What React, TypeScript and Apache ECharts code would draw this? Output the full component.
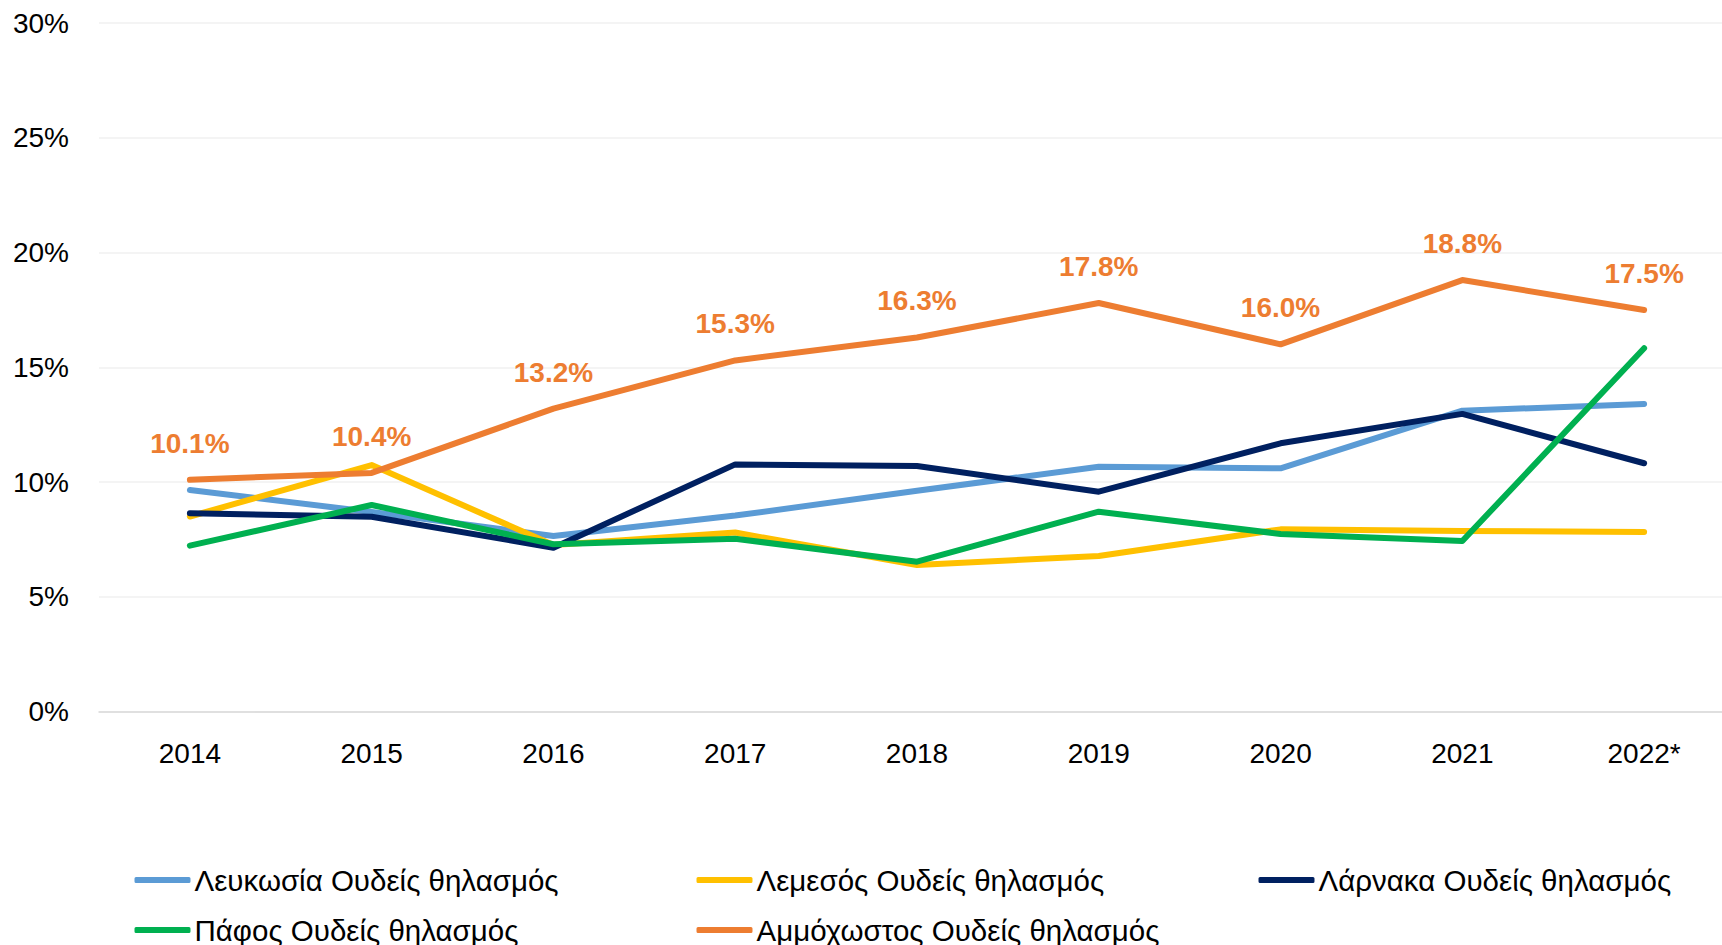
import React, { useEffect, useRef } from "react";
import * as echarts from "echarts";

const years = ["2014", "2015", "2016", "2017", "2018", "2019", "2020", "2021", "2022*"];
const yTicks = [0, 5, 10, 15, 20, 25, 30];

const seriesNames = [
  "Λευκωσία Ουδείς θηλασμός",
  "Λεμεσός Ουδείς θηλασμός",
  "Λάρνακα Ουδείς θηλασμός",
  "Πάφος Ουδείς θηλασμός",
  "Αμμόχωστος Ουδείς θηλασμός",
];
const colors = ["#5B9BD5", "#FFC000", "#002060", "#00B050", "#ED7D31"];

const lefkosia = [9.65, 8.7, 7.65, 8.54, 9.62, 10.67, 10.6, 13.11, 13.4];
const lemesos = [8.5, 10.74, 7.26, 7.8, 6.39, 6.78, 7.94, 7.87, 7.83];
const larnaka = [8.64, 8.49, 7.14, 10.77, 10.7, 9.58, 11.69, 12.97, 10.82];
const pafos = [7.23, 9.0, 7.29, 7.53, 6.53, 8.71, 7.74, 7.43, 15.83];
const ammochostos = [10.1, 10.4, 13.2, 15.3, 16.3, 17.8, 16.0, 18.8, 17.5];

const allData = [lefkosia, lemesos, larnaka, pafos, ammochostos];

const FONT = "Liberation Sans";

export default function App() {
  const ref = useRef<HTMLDivElement>(null);
  useEffect(() => {
    if (!ref.current) return;
    document.documentElement.style.overflow = "hidden";
    document.body.style.overflow = "hidden";
    const chart = echarts.init(ref.current, null, { renderer: "svg" });
    const legendPos = [
      { left: 129.5, top: 860 },
      { left: 691.5, top: 860 },
      { left: 1253.5, top: 860 },
      { left: 129.5, top: 910 },
      { left: 691.5, top: 910 },
    ];
    chart.setOption({
      animation: false,
      backgroundColor: "#FFFFFF",
      grid: { left: 99, top: 23, right: 0, height: 688.6, containLabel: false },
      legend: seriesNames.map((n, i) => ({
        data: [n],
        left: legendPos[i].left,
        top: legendPos[i].top,
        itemWidth: 56,
        itemHeight: 6,
        itemGap: 0,
        icon: "roundRect",
        textStyle: {
          fontFamily: FONT,
          fontSize: 29.5,
          lineHeight: 30,
          color: "#000000",
          padding: [0, 0, 0, -1],
        },
      })),
      xAxis: {
        type: "category",
        data: years,
        boundaryGap: true,
        axisLine: { lineStyle: { color: "#D9D9D9", width: 1.5 } },
        axisTick: { show: false },
        axisLabel: { fontFamily: FONT, fontSize: 28, color: "#000000", margin: 28 },
      },
      yAxis: {
        type: "value",
        min: yTicks[0],
        max: yTicks[yTicks.length - 1],
        interval: 5,
        axisLine: { show: false },
        axisTick: { show: false },
        splitLine: { lineStyle: { color: "#F0F0F0", width: 1.5 } },
        axisLabel: {
          fontFamily: FONT,
          fontSize: 28,
          color: "#000000",
          margin: 30,
          formatter: "{value}%",
        },
      },
      series: allData.map((d, i) => ({
        name: seriesNames[i],
        type: "line",
        data: d,
        symbol: "circle",
        symbolSize: 1,
        showSymbol: true,
        itemStyle: { color: colors[i] },
        lineStyle: { color: colors[i], width: 6, cap: "round", join: "round" },
        label:
          i === 4
            ? {
                show: true,
                position: "top",
                distance: 22,
                fontFamily: FONT,
                fontSize: 28,
                fontWeight: "bold",
                color: colors[i],
                formatter: (p: any) => p.value.toFixed(1) + "%",
              }
            : { show: false },
        z: 2 + i,
      })),
    });
    return () => chart.dispose();
  }, []);
  return (
    <div
      ref={ref}
      style={{ position: "fixed", left: 0, top: 0, width: 1735, height: 945 }}
    />
  );
}
